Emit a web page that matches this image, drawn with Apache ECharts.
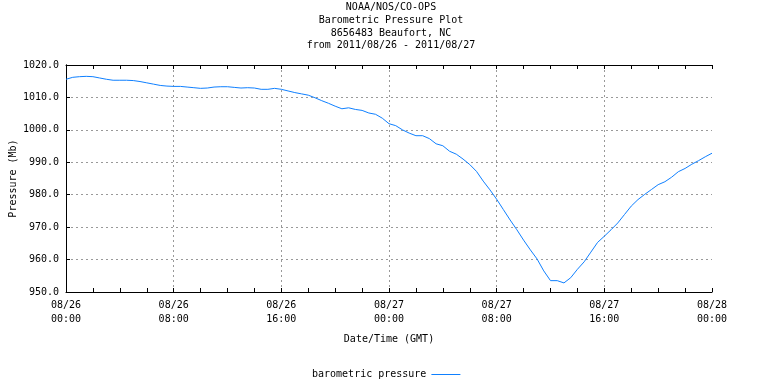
<!DOCTYPE html>
<html>
<head>
<meta charset="utf-8">
<script src="https://cdn.jsdelivr.net/npm/echarts@6/dist/echarts.min.js"></script>
<style>
html,body{margin:0;padding:0;background:#fff;}
#c{width:768px;height:384px;}
</style>
</head>
<body>
<div id="c"></div>
<script>
const titleLines = [
  'NOAA/NOS/CO-OPS',
  'Barometric Pressure Plot',
  '8656483 Beaufort, NC',
  'from 2011/08/26 - 2011/08/27'
];
// hours since 2011/08/26 00:00 GMT
const hours = [
  0,0.5,1,1.5,2,2.5,3,3.5,4,4.5,5,5.5,6,6.5,7,7.5,8,8.5,9,9.5,
  10,10.5,11,11.5,12,12.5,13,13.5,14,14.5,15,15.5,16,16.5,17,17.5,18,18.5,19,19.5,
  20,20.5,21,21.5,22,22.5,23,23.5,24,24.5,25,25.5,26,26.5,27,27.5,28,28.5,29,29.5,
  30,30.5,31,31.5,32,32.5,33,33.5,34,34.5,35,35.5,36,36.5,37,37.5,38,38.5,39,39.5,
  40,40.5,41,41.5,42,42.5,43,43.5,44,44.5,45,45.5,46,46.5,47,47.5,48
];
const pressure = [
  1015.6,1016.2,1016.4,1016.5,1016.4,1016.0,1015.6,1015.3,1015.3,1015.3,
  1015.2,1014.9,1014.5,1014.1,1013.7,1013.5,1013.4,1013.4,1013.2,1013.0,
  1012.8,1012.9,1013.2,1013.3,1013.3,1013.1,1012.9,1013.0,1012.9,1012.5,
  1012.5,1012.8,1012.5,1012.0,1011.5,1011.1,1010.7,1009.9,1009.0,1008.2,
  1007.3,1006.5,1006.8,1006.3,1006.0,1005.2,1004.8,1003.6,1001.9,1001.3,
  1000.0,999.0,998.2,998.2,997.3,995.7,995.1,993.4,992.5,991.0,
  989.3,987.2,984.2,981.5,978.6,975.4,972.2,969.2,966.0,963.0,
  960.2,956.5,953.5,953.5,952.8,954.4,957.0,959.3,962.3,965.3,
  967.2,969.2,971.3,973.9,976.5,978.5,980.1,981.6,983.1,984.0,
  985.4,987.1,988.1,989.4,990.5,991.7,992.8
];
const xTickLabels = [
  '08/26\n00:00','08/26\n08:00','08/26\n16:00','08/27\n00:00',
  '08/27\n08:00','08/27\n16:00','08/28\n00:00'
];
const seriesName = 'barometric pressure';

const FONT = 'DejaVu Sans Mono';
const LINE_COLOR = '#0f80ff';
const chart = echarts.init(document.getElementById('c'), null, {renderer: 'canvas'});
const tickStyle = {color: '#000', width: 1};
const textBase = {color: '#000', fontFamily: FONT, fontSize: 10};

chart.setOption({
  animation: false,
  backgroundColor: '#fff',
  graphic: [{
    type: 'text',
    x: 391, y: 1,
    style: {
      text: titleLines.join('\n'),
      fontFamily: FONT, fontSize: 10, lineHeight: 12.8,
      align: 'center', verticalAlign: 'top', fill: '#000'
    }
  }],
  legend: {
    data: [{name: seriesName, icon: 'path://M0 0H29V1H0Z'}],
    left: 312, top: 369.5,
    padding: 0,
    align: 'right',
    itemWidth: 29, itemHeight: 1,
    itemStyle: {color: LINE_COLOR, borderWidth: 0},
    textStyle: textBase
  },
  grid: {left: 66, right: 56, top: 65, bottom: 92, containLabel: false, outerBoundsMode: 'none'},
  xAxis: [{
    type: 'value', min: 0, max: 48, interval: 8, position: 'bottom',
    axisLine: {show: true, lineStyle: tickStyle},
    axisTick: {show: true, inside: true, length: 4, lineStyle: tickStyle},
    minorTick: {show: true, splitNumber: 4, length: 4, lineStyle: tickStyle},
    axisLabel: Object.assign({}, textBase, {
      margin: 7, lineHeight: 13.5,
      formatter: v => xTickLabels[Math.round(v / 8)]
    }),
    splitLine: {show: true, showMinLine: false, showMaxLine: false,
      lineStyle: {color: '#999', type: [2, 3], width: 1}},
    name: 'Date/Time (GMT)', nameLocation: 'middle', nameGap: 42,
    nameMoveOverlap: false,
    nameTextStyle: textBase
  }, {
    type: 'value', min: 0, max: 48, interval: 8, position: 'top',
    axisLine: {show: true, lineStyle: tickStyle},
    axisTick: {show: true, inside: true, length: 4, lineStyle: tickStyle},
    minorTick: {show: true, splitNumber: 4, length: 4, lineStyle: tickStyle},
    axisLabel: {show: false},
    splitLine: {show: false}
  }],
  yAxis: [{
    type: 'value', min: 950, max: 1020, interval: 10, position: 'left',
    axisLine: {show: true, lineStyle: tickStyle},
    axisTick: {show: true, inside: true, length: 4, lineStyle: tickStyle},
    axisLabel: Object.assign({}, textBase, {
      margin: 7, formatter: v => v.toFixed(1)
    }),
    splitLine: {show: true, showMinLine: false, showMaxLine: false,
      lineStyle: {color: '#999', type: [2, 3], width: 1}},
    name: 'Pressure (Mb)', nameLocation: 'middle', nameGap: 48,
    nameMoveOverlap: false,
    nameTextStyle: textBase
  }, {
    type: 'value', min: 950, max: 1020, interval: 10, position: 'right',
    axisLine: {show: true, lineStyle: tickStyle},
    axisTick: {show: false},
    axisLabel: {show: false},
    splitLine: {show: false}
  }],
  series: [{
    name: seriesName,
    type: 'line',
    xAxisIndex: 0, yAxisIndex: 0,
    data: hours.map((h, i) => [h, pressure[i]]),
    symbol: 'none',
    showSymbol: false,
    color: LINE_COLOR,
    lineStyle: {color: LINE_COLOR, width: 1}
  }]
});
</script>
</body>
</html>
